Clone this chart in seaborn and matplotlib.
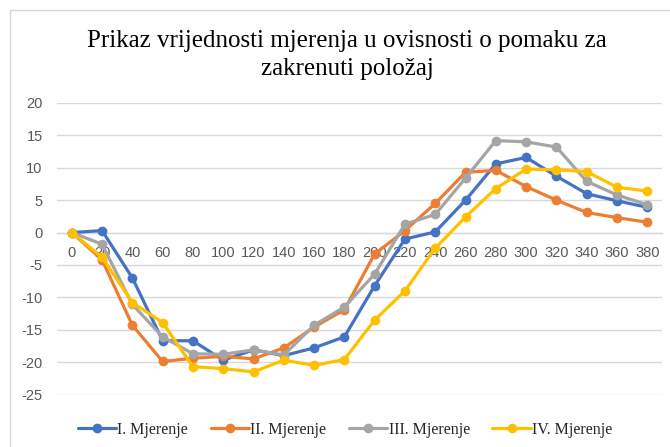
import matplotlib
matplotlib.use("Agg")
import matplotlib.pyplot as plt
from matplotlib.lines import Line2D
import seaborn as sns
import pandas as pd

positions = [0, 20, 40, 60, 80, 100, 120, 140, 160, 180, 200, 220, 240, 260, 280, 300, 320, 340, 360, 380]
series_names = ["I. Mjerenje", "II. Mjerenje", "III. Mjerenje", "IV. Mjerenje"]
mjerenje_1 = [0, 0.3, -7.0, -16.7, -16.7, -19.7, -18.1, -19.0, -17.8, -16.1, -8.2, -1.0, 0.1, 5.0, 10.6, 11.6, 8.7, 6.0, 4.9, 3.9]
mjerenje_2 = [0, -4.2, -14.3, -19.9, -19.4, -19.1, -19.5, -17.8, -14.6, -11.9, -3.3, 0.3, 4.5, 9.3, 9.6, 7.1, 5.0, 3.1, 2.3, 1.6]
mjerenje_3 = [0, -1.8, -11.1, -16.1, -18.7, -18.8, -18.1, -18.9, -14.3, -11.5, -6.4, 1.3, 2.8, 8.4, 14.2, 14.0, 13.2, 7.9, 5.8, 4.3]
mjerenje_4 = [0, -3.8, -10.8, -13.9, -20.7, -21.0, -21.5, -19.7, -20.5, -19.6, -13.5, -9.0, -2.4, 2.4, 6.8, 9.8, 9.7, 9.4, 7.0, 6.4]
colors = ["#4472C4", "#ED7D31", "#A5A5A5", "#FFC000"]
title = "Prikaz vrijednosti mjerenja u ovisnosti o pomaku za\nzakrenuti položaj"
yticks = [20, 15, 10, 5, 0, -5, -10, -15, -20, -25]

rows = []
for name, vals in zip(series_names, [mjerenje_1, mjerenje_2, mjerenje_3, mjerenje_4]):
    for p, v in zip(positions, vals):
        rows.append({"pos": p, "val": v, "serija": name})
df = pd.DataFrame(rows)

sns.set_style("white")
fig = plt.figure(figsize=(6.7, 4.47), dpi=100)
ax = fig.add_axes([0.0845, 0.1174, 0.9042, 0.6522])

sns.lineplot(data=df, x="pos", y="val", hue="serija", palette=colors, marker="o",
             markersize=7, markeredgewidth=0, linewidth=2.3, ax=ax, legend=False,
             zorder=3)

ax.set_xlim(-10, 390)
ax.set_ylim(-25, 20)
ax.set_yticks(yticks)
ax.set_xticks(positions)
ax.grid(axis="y", color="#D9D9D9", linewidth=1.0)
ax.grid(axis="x", visible=False)
for s in ["top", "right", "left"]:
    ax.spines[s].set_visible(False)
ax.spines["bottom"].set_position(("data", 0))
ax.spines["bottom"].set_color("#D9D9D9")
ax.spines["bottom"].set_linewidth(1.0)
ax.spines["bottom"].set_zorder(1)
ax.tick_params(axis="both", length=0, labelsize=10.5, labelcolor="#595959")
ax.tick_params(axis="y", pad=10)
ax.tick_params(axis="x", pad=10)
for lab in ax.get_xticklabels() + ax.get_yticklabels():
    lab.set_fontfamily("Liberation Sans")
ax.set_yticklabels([str(t) for t in yticks])
ax.set_xlabel("")
ax.set_ylabel("")

fig.text(0.518, 1 - 55 / 447, title, ha="center", va="center", fontsize=18,
         family="Liberation Serif", color="#000000", linespacing=1.4)

handles = [Line2D([0], [0], color=c, marker="o", markersize=7, markeredgewidth=0, linewidth=2.3)
           for c in colors]
fig.legend(handles, series_names, loc="center", bbox_to_anchor=(0.515, 1 - 430 / 447),
           ncol=4, frameon=False, prop={"family": "Liberation Serif", "size": 11.5},
           handlelength=2.4, handletextpad=0.1, columnspacing=1.4)

fig.add_artist(Line2D([10 / 670, 1], [1 - 10 / 447, 1 - 10 / 447], color="#D9D9D9", linewidth=1.0,
                      transform=fig.transFigure))
fig.add_artist(Line2D([10 / 670, 10 / 670], [0, 1 - 10 / 447], color="#D9D9D9", linewidth=1.0,
                      transform=fig.transFigure))

fig.savefig("out.png", dpi=100)
